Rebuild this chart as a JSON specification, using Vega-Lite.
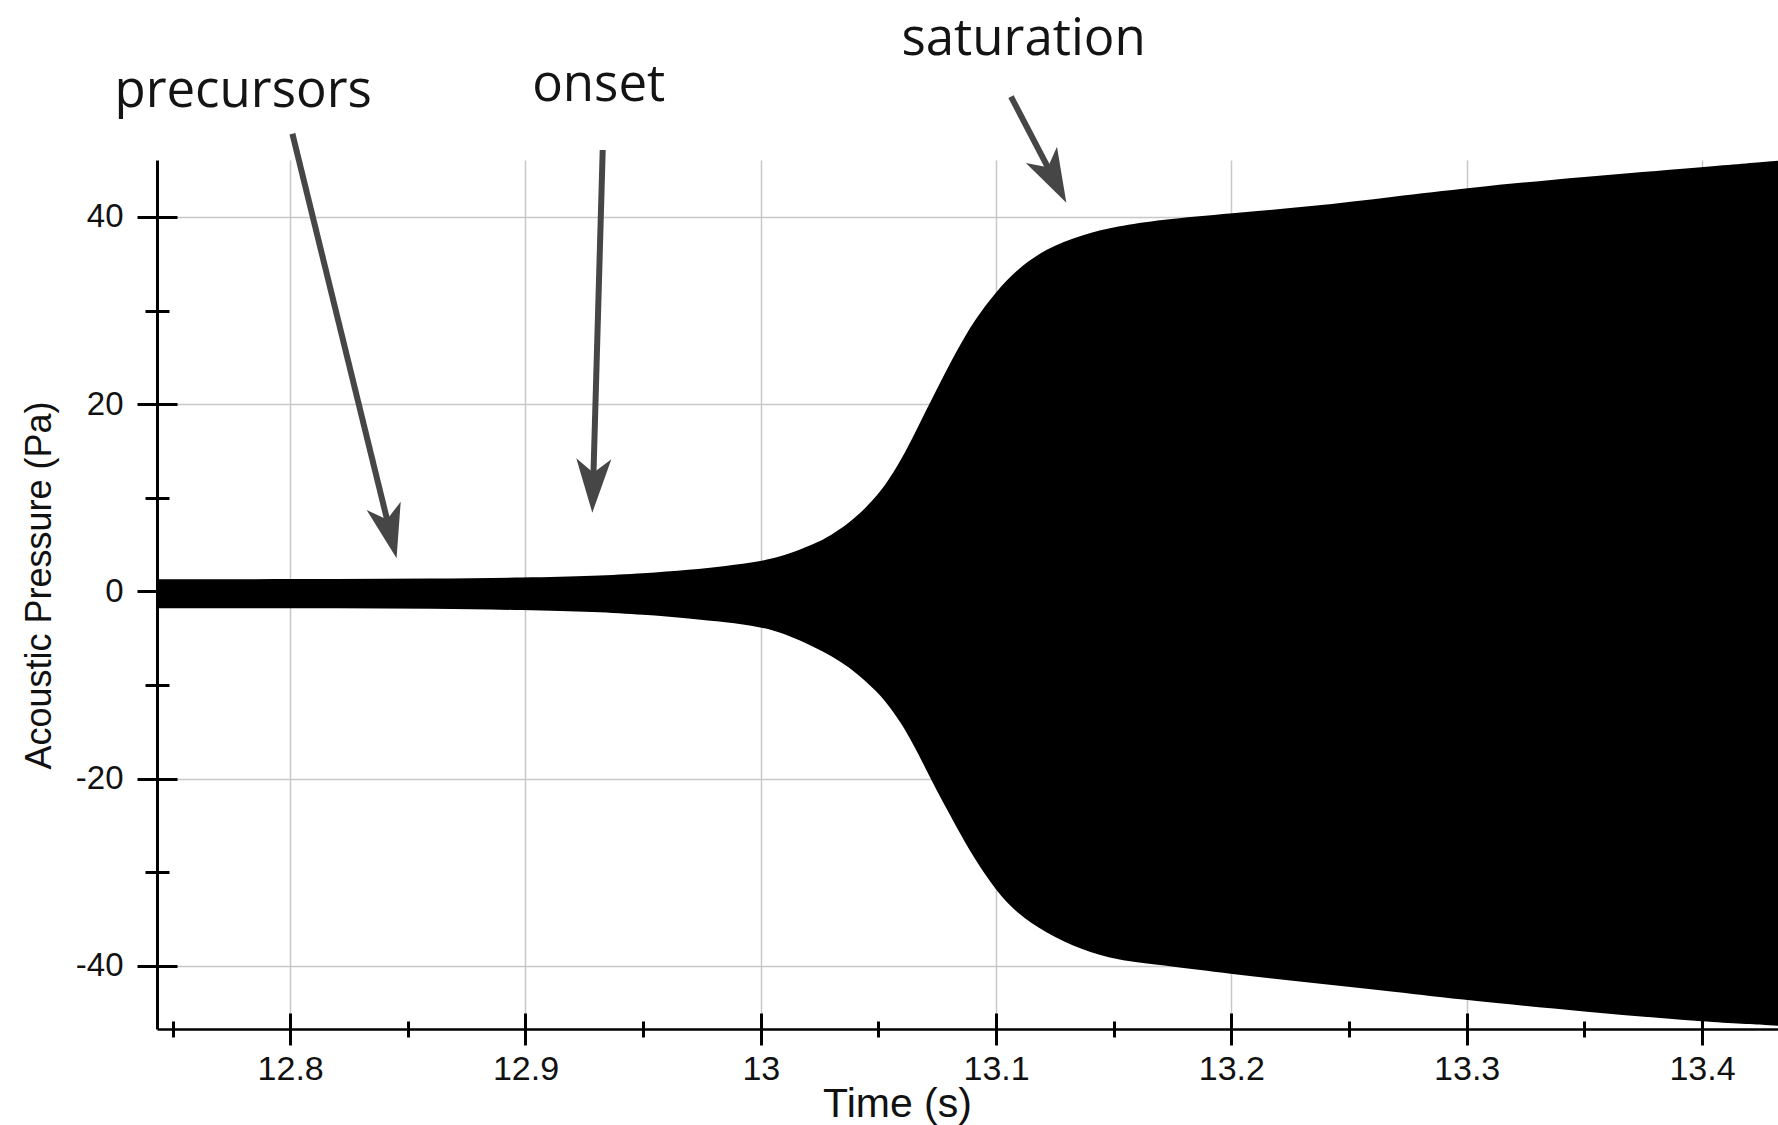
{
  "$schema": "https://vega.github.io/schema/vega-lite/v6.json",
  "width": 1621,
  "height": 869,
  "autosize": {"type": "none"},
  "padding": {"left": 157, "top": 160, "right": 0, "bottom": 96},
  "background": "white",
  "config": {"view": {"stroke": null}},
  "datasets": {
    "wave": [
      {"t": 12.7434, "hi": 1.3, "lo": -1.8},
      {"t": 12.78, "hi": 1.3, "lo": -1.8},
      {"t": 12.82, "hi": 1.3, "lo": -1.8},
      {"t": 12.86, "hi": 1.35, "lo": -1.85},
      {"t": 12.9, "hi": 1.45, "lo": -2.0},
      {"t": 12.93, "hi": 1.65, "lo": -2.2},
      {"t": 12.95, "hi": 1.9, "lo": -2.5},
      {"t": 12.97, "hi": 2.3, "lo": -2.9},
      {"t": 12.985, "hi": 2.7, "lo": -3.3},
      {"t": 13.0, "hi": 3.2, "lo": -3.8},
      {"t": 13.01, "hi": 3.8, "lo": -4.5},
      {"t": 13.0224, "hi": 5.0, "lo": -5.9},
      {"t": 13.03, "hi": 6.0, "lo": -6.9},
      {"t": 13.0376, "hi": 7.3, "lo": -8.1},
      {"t": 13.045, "hi": 9.0, "lo": -9.7},
      {"t": 13.0528, "hi": 11.2, "lo": -11.6},
      {"t": 13.06, "hi": 14.2, "lo": -14.2},
      {"t": 13.0649, "hi": 16.6, "lo": -16.4},
      {"t": 13.07, "hi": 19.2, "lo": -18.9},
      {"t": 13.0756, "hi": 22.0, "lo": -21.7},
      {"t": 13.083, "hi": 25.6, "lo": -25.1},
      {"t": 13.0908, "hi": 29.0, "lo": -28.6},
      {"t": 13.1, "hi": 32.0, "lo": -32.0},
      {"t": 13.1088, "hi": 34.4, "lo": -34.4},
      {"t": 13.1211, "hi": 36.6, "lo": -36.5},
      {"t": 13.1363, "hi": 38.1, "lo": -38.3},
      {"t": 13.1515, "hi": 39.0, "lo": -39.4},
      {"t": 13.1695, "hi": 39.7, "lo": -39.9},
      {"t": 13.2, "hi": 40.4, "lo": -40.9},
      {"t": 13.2333, "hi": 41.1, "lo": -41.8},
      {"t": 13.27, "hi": 42.2, "lo": -42.8},
      {"t": 13.3, "hi": 43.1, "lo": -43.7},
      {"t": 13.35, "hi": 44.3, "lo": -44.9},
      {"t": 13.4, "hi": 45.3, "lo": -46.0},
      {"t": 13.4323, "hi": 46.0, "lo": -46.4}
    ],
    "arrows": [
      {"label": "precursors", "x": 12.80094, "y": 48.88, "x2": 12.84219, "y2": 6.63, "tx": 12.84521, "ty": 3.53},
      {"label": "onset", "x": 12.93282, "y": 47.15, "x2": 12.92878, "y2": 11.6, "tx": 12.9284, "ty": 8.4},
      {"label": "saturation", "x": 13.10634, "y": 52.84, "x2": 13.12396, "y2": 44.36, "tx": 13.12986, "ty": 41.52}
    ],
    "labels": [
      {"text": "precursors", "x": 12.78, "y": 51.77},
      {"text": "onset", "x": 12.9311, "y": 52.41},
      {"text": "saturation", "x": 13.1117, "y": 57.3}
    ]
  },
  "resolve": {"axis": {"x": "independent", "y": "independent"}},
  "layer": [
    {
      "data": {"name": "wave"},
      "mark": {"type": "area", "color": "black", "interpolate": "basis"},
      "encoding": {
        "x": {
          "field": "t", "type": "quantitative",
          "scale": {"domain": [12.7434, 13.4323], "nice": false, "zero": false},
          "axis": {
            "orient": "bottom",
            "values": [12.8, 12.9, 13, 13.1, 13.2, 13.3, 13.4],
            "format": "~g",
            "domainColor": "black", "domainWidth": 2.5,
            "tickColor": "black", "tickWidth": 3, "tickSize": 16,
            "labelPadding": 7, "labelFont": "Liberation Sans", "labelFontSize": 34, "labelColor": "#111111",
            "labelFlush": false, "labelOverlap": false,
            "grid": true, "gridColor": "#c8c8c8", "gridWidth": 1.5,
            "title": "Time (s)", "titleFont": "Liberation Sans", "titleFontSize": 41, "titleFontWeight": "normal",
            "titleColor": "#111111", "titleX": 740, "titleY": 87, "titleBaseline": "alphabetic", "titleAlign": "center"
          }
        },
        "y": {
          "field": "hi", "type": "quantitative",
          "scale": {"domain": [-46.76, 46.08], "nice": false, "zero": false},
          "axis": {
            "orient": "left",
            "values": [-40, -20, 0, 20, 40],
            "labelExpr": "replace(datum.label, '\u2212', '-')",
            "domainColor": "black", "domainWidth": 3,
            "tickColor": "black", "tickWidth": 3, "tickSize": 20,
            "labelPadding": 14, "labelFont": "Liberation Sans", "labelFontSize": 33, "labelColor": "#111111",
            "grid": true, "gridColor": "#c8c8c8", "gridWidth": 1.5,
            "title": "Acoustic Pressure (Pa)", "titleFont": "Liberation Sans", "titleFontSize": 36, "titleFontWeight": "normal",
            "titleColor": "#111111", "titleAngle": 270, "titleX": -107, "titleY": 425, "titleBaseline": "alphabetic", "titleAlign": "center"
          }
        },
        "y2": {"field": "lo"}
      }
    },
    {
      "data": {"name": "arrows"},
      "mark": {"type": "rule", "color": "#464646", "strokeWidth": 6, "strokeCap": "butt"},
      "encoding": {
        "x": {
          "field": "x", "type": "quantitative",
          "scale": {"domain": [12.7434, 13.4323], "nice": false, "zero": false},
          "axis": {"orient": "bottom", "values": [12.8, 12.9, 13, 13.1, 13.2, 13.3, 13.4], "offset": -16, "tickSize": 16,
                   "tickColor": "black", "tickWidth": 3, "domain": false, "labels": false, "grid": false, "title": null}
        },
        "y": {
          "field": "y", "type": "quantitative",
          "scale": {"domain": [-46.76, 46.08], "nice": false, "zero": false},
          "axis": {"orient": "left", "values": [-40, -20, 0, 20, 40], "offset": -20, "tickSize": 20,
                   "tickColor": "black", "tickWidth": 3, "domain": false, "labels": false, "grid": false, "title": null}
        },
        "x2": {"field": "x2"},
        "y2": {"field": "y2"}
      }
    },
    {
      "data": {"name": "arrows"},
      "transform": [{"filter": "datum.label === 'precursors'"}],
      "mark": {"type": "point", "shape": "M0,0 L-0.65,-2 L0,-1.48 L0.65,-2 Z", "filled": true, "size": 2916, "angle": 346.2, "color": "#464646", "opacity": 1, "strokeWidth": 0},
      "encoding": {
        "x": {
          "field": "tx", "type": "quantitative",
          "scale": {"domain": [12.7434, 13.4323], "nice": false, "zero": false},
          "axis": {"orient": "bottom", "values": [12.75, 12.85, 12.95, 13.05, 13.15, 13.25, 13.35], "offset": -8, "tickSize": 16,
                   "tickColor": "black", "tickWidth": 3, "domain": false, "labels": false, "grid": false, "title": null}
        },
        "y": {
          "field": "ty", "type": "quantitative",
          "scale": {"domain": [-46.76, 46.08], "nice": false, "zero": false},
          "axis": {"orient": "left", "values": [-30, -10, 10, 30], "offset": -12, "tickSize": 24,
                   "tickColor": "black", "tickWidth": 3, "domain": false, "labels": false, "grid": false, "title": null}
        }
      }
    },
    {
      "data": {"name": "arrows"},
      "transform": [{"filter": "datum.label === 'onset'"}],
      "mark": {"type": "point", "shape": "M0,0 L-0.65,-2 L0,-1.48 L0.65,-2 Z", "filled": true, "size": 2916, "angle": 1.6, "color": "#464646", "opacity": 1, "strokeWidth": 0},
      "encoding": {
        "x": {"field": "tx", "type": "quantitative", "scale": {"domain": [12.7434, 13.4323], "nice": false, "zero": false}, "axis": null},
        "y": {"field": "ty", "type": "quantitative", "scale": {"domain": [-46.76, 46.08], "nice": false, "zero": false}, "axis": null}
      }
    },
    {
      "data": {"name": "arrows"},
      "transform": [{"filter": "datum.label === 'saturation'"}],
      "mark": {"type": "point", "shape": "M0,0 L-0.65,-2 L0,-1.48 L0.65,-2 Z", "filled": true, "size": 2916, "angle": 332.5, "color": "#464646", "opacity": 1, "strokeWidth": 0},
      "encoding": {
        "x": {"field": "tx", "type": "quantitative", "scale": {"domain": [12.7434, 13.4323], "nice": false, "zero": false}, "axis": null},
        "y": {"field": "ty", "type": "quantitative", "scale": {"domain": [-46.76, 46.08], "nice": false, "zero": false}, "axis": null}
      }
    },
    {
      "data": {"name": "labels"},
      "mark": {"type": "text", "font": "Open Sans", "fontSize": 51, "align": "center", "baseline": "alphabetic", "color": "#141414"},
      "encoding": {
        "x": {"field": "x", "type": "quantitative", "scale": {"domain": [12.7434, 13.4323], "nice": false, "zero": false}, "axis": null},
        "y": {"field": "y", "type": "quantitative", "scale": {"domain": [-46.76, 46.08], "nice": false, "zero": false}, "axis": null},
        "text": {"field": "text"}
      }
    }
  ]
}
